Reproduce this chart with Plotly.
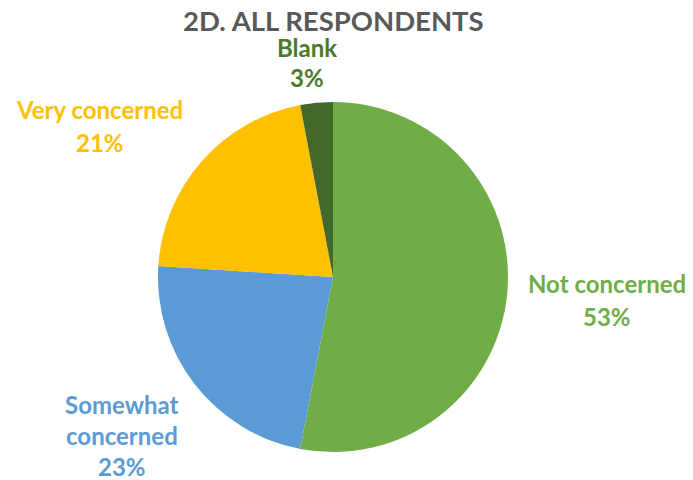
import plotly.graph_objects as go

labels = ["Not concerned", "Somewhat concerned", "Very concerned", "Blank"]
values = [53, 23, 21, 3]
colors = ["#70AD47", "#5B9BD5", "#FFC000", "#43682B"]
label_colors = ["#70AD47", "#5B9BD5", "#FFC000", "#4A7A2E"]
label_lines = [["Not concerned"], ["Somewhat", "concerned"], ["Very concerned"], ["Blank"]]
# label anchor (x centre, y centre of first line) and line spacing, in page pixels
label_pos = [(607, 283, 33), (122, 404, 31), (100, 110, 33), (307, 48, 30)]

W, H = 693, 480
cx, cy, r = 333, 277, 175


def px2paper(px, py):
    return px / W, 1 - py / H


fig = go.Figure(go.Pie(
    labels=labels, values=values, sort=False, direction="clockwise", rotation=0,
    marker=dict(colors=colors, line=dict(width=0)),
    textinfo="none", hoverinfo="label+percent", showlegend=False,
    domain=dict(x=[(cx - r) / W, (cx + r) / W],
                y=[1 - (cy + r) / H, 1 - (cy - r) / H]),
))

total = sum(values)
font_family = "Lato, 'Open Sans', sans-serif"
for lines, v, c, (px, py, sp) in zip(label_lines, values, label_colors, label_pos):
    all_lines = lines + [f"{round(100 * v / total)}%"]
    for i, t in enumerate(all_lines):
        x, y = px2paper(px, py + i * sp)
        fig.add_annotation(
            x=x, y=y, xref="paper", yref="paper", xanchor="center", yanchor="middle",
            showarrow=False, text=f"<b>{t}</b>",
            font=dict(family=font_family, size=24, color=c),
        )

tx, ty = px2paper(cx, 21)
fig.add_annotation(
    x=tx, y=ty, xref="paper", yref="paper", xanchor="center", yanchor="middle",
    showarrow=False, text="<b>2D. ALL RESPONDENTS</b>",
    font=dict(family=font_family, size=27.5, color="#595959"),
)

fig.update_layout(
    width=W, height=H, margin=dict(l=0, r=0, t=0, b=0),
    paper_bgcolor="white", plot_bgcolor="white",
)
fig.write_html("out.html", config={"displayModeBar": False},
               post_script="document.body.style.margin='0';")
